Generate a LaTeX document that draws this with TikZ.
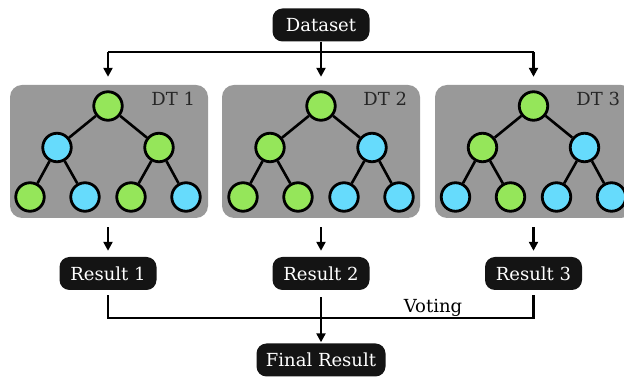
\documentclass[tikz,border=0pt]{standalone}
\usepackage{fontspec}
\setmainfont{DejaVu Serif}
\usetikzlibrary{arrows.meta}
\definecolor{panelgray}{HTML}{999999}
\definecolor{leafgreen}{HTML}{95E65A}
\definecolor{leafblue}{HTML}{66DBFC}
\definecolor{boxblack}{HTML}{141414}

% one decision tree: #1 name prefix, #2 x of the root, #3..#9 fills
% (root, left, right, left-left, left-right, right-left, right-right)
\newcommand\dtree[9]{%
  \node[tnode, fill=#3] (#1r)  at (#2,271) {};
  \node[tnode, fill=#4] (#1a)  at (#2-51,229.5) {};
  \node[tnode, fill=#5] (#1b)  at (#2+51,229.5) {};
  \node[tnode, fill=#6] (#1aa) at (#2-78,180) {};
  \node[tnode, fill=#7] (#1ab) at (#2-23,180) {};
  \node[tnode, fill=#8] (#1ba) at (#2+23,180) {};
  \node[tnode, fill=#9] (#1bb) at (#2+78,180) {};
  \draw[treeedge] (#1r) -- (#1a);
  \draw[treeedge] (#1r) -- (#1b);
  \draw[treeedge] (#1a) -- (#1aa);
  \draw[treeedge] (#1a) -- (#1ab);
  \draw[treeedge] (#1b) -- (#1ba);
  \draw[treeedge] (#1b) -- (#1bb);
}

\begin{document}
\begin{tikzpicture}[x=1pt,y=1pt,
  txt/.style={font=\fontsize{18}{21}\selectfont},
  panel/.style={fill=panelgray, rounded corners=12pt, minimum width=198pt,
    minimum height=133pt, inner sep=0pt},
  tnode/.style={circle, draw=black, line width=2.8pt, minimum size=28.5pt, inner sep=0pt},
  treeedge/.style={line width=2.6pt},
  blackbox/.style={txt, fill=boxblack, text=white, rounded corners=10pt,
    minimum height=33pt, minimum width=97pt, inner sep=0pt},
  link/.style={line width=2.4pt},
  arr/.style={link, -{Triangle[length=9pt,width=9pt]}},
  dtlabel/.style={txt, anchor=base east, inner sep=0pt, text=black!85},
]
\useasboundingbox (0,0) rectangle (624,377);
\clip (0,0) rectangle (624,377);

% panels holding the trees
\node[panel] (p1) at (109,225.5) {};
\node[panel] (p2) at (321,225.5) {};
\node[panel] (p3) at (534,225.5) {};
\node[dtlabel] (l1) at ([xshift=-13pt]p1.east |- 0,271) {DT 1};
\node[dtlabel] (l2) at ([xshift=-13pt]p2.east |- 0,271) {DT 2};
\node[dtlabel] (l3) at ([xshift=-13pt]p3.east |- 0,271) {DT 3};

\dtree{t1}{108}{leafgreen}{leafblue}{leafgreen}{leafgreen}{leafblue}{leafgreen}{leafblue}
\dtree{t2}{321}{leafgreen}{leafgreen}{leafblue}{leafgreen}{leafgreen}{leafblue}{leafblue}
\dtree{t3}{533.5}{leafgreen}{leafgreen}{leafblue}{leafblue}{leafgreen}{leafblue}{leafblue}

% boxes
\node[blackbox] (ds) at (321,352) {Dataset};
\node[blackbox] (r1) at (108,103.5) {Result 1};
\node[blackbox] (r2) at (321,103.5) {Result 2};
\node[blackbox] (r3) at (533.5,103.5) {Result 3};
\node[blackbox, minimum width=129pt] (fr) at (321,17) {Final Result};

% dataset fans out to the three trees
\coordinate (top) at (321,325);
\draw[link] (t1r |- top) -- (t3r |- top);
\draw[arr, shorten >=8pt] (ds.south) -- (ds.south |- p2.north);
\draw[arr, shorten >=8pt] (t1r |- top) -- (t1r |- p1.north);
\draw[arr, shorten >=8pt] (t3r |- top) -- (t3r |- p3.north);

% each tree gives a result
\draw[arr, shorten <=9pt, shorten >=6pt] (r1.north |- p1.south) -- (r1.north);
\draw[arr, shorten <=9pt, shorten >=6pt] (r2.north |- p2.south) -- (r2.north);
\draw[arr, shorten <=9pt, shorten >=6pt] (r3.north |- p3.south) -- (r3.north);

% voting
\coordinate (bot) at (321,59);
\draw[link, shorten <=5pt, shorten >=5pt] (r1.south) |- (bot) -| (r3.south);
\draw[arr, shorten <=7pt, shorten >=1pt] (r2.south) -- (fr.north);
\node[txt, anchor=base, inner sep=0pt] (vote) at (433,64) {Voting};
\end{tikzpicture}
\end{document}
